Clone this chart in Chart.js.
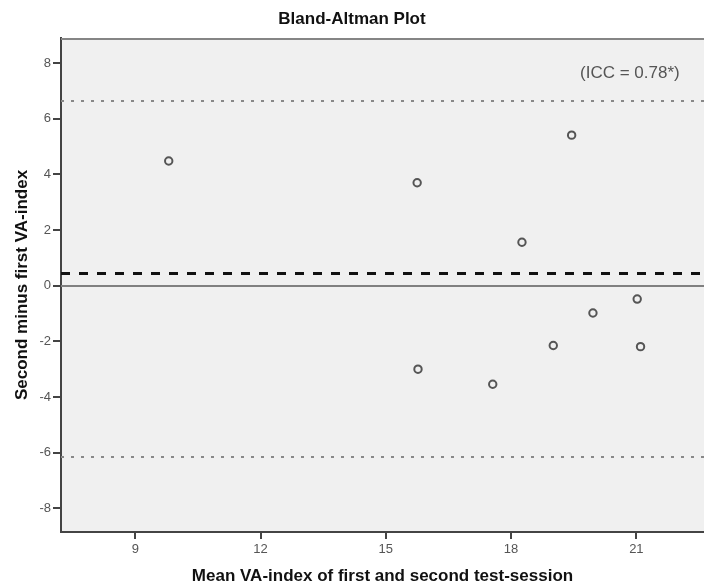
<!DOCTYPE html>
<html>
<head>
<meta charset="utf-8">
<script src="https://cdn.jsdelivr.net/npm/chart.js@4/dist/chart.umd.min.js"></script>
<style>
  html, body { margin: 0; padding: 0; background: #ffffff; }
  #wrap { width: 704px; height: 588px; }
</style>
</head>
<body>
<div id="wrap"><canvas id="c" width="704" height="588"></canvas></div>
<script>
// ---- data ----
const meanValues = [9.80, 15.75, 18.26, 19.45, 21.02, 19.96, 19.01, 21.10, 15.77, 17.56];
const diffValues = [4.48, 3.70, 1.56, 5.41, -0.48, -0.98, -2.15, -2.19, -3.00, -3.54];
const meanDifference = 0.45;
const upperLimit = 6.64;
const lowerLimit = -6.14;
const zeroLine = 0;
const xTickValues = [9, 12, 15, 18, 21];
const yTickValues = [-8, -6, -4, -2, 0, 2, 4, 6, 8];
const xRange = [7.22, 22.62];
const yRange = [-8.85, 8.9];
const titleText = 'Bland-Altman Plot';
const xTitle = 'Mean VA-index of first and second test-session';
const yTitle = 'Second minus first VA-index';
const iccText = '(ICC = 0.78*)';

const FONT = "'Liberation Sans', Arial, sans-serif";

const points = meanValues.map((m, i) => ({ x: m, y: diffValues[i] }));

const refLinesPlugin = {
  id: 'refLines',
  beforeDraw(chart) {
    const { ctx, chartArea: a } = chart;
    ctx.save();
    ctx.fillStyle = '#f0f0f0';
    ctx.fillRect(a.left, a.top, a.right - a.left, a.bottom - a.top);
    ctx.restore();
  },
  beforeDatasetsDraw(chart) {
    const { ctx, chartArea: a, scales } = chart;
    const y = scales.y;
    const hline = (v, color, width, dash) => {
      const py = Math.round(y.getPixelForValue(v)) + (width % 2 ? 0.5 : 0);
      ctx.save();
      ctx.beginPath();
      ctx.rect(a.left, a.top, a.right - a.left, a.bottom - a.top);
      ctx.clip();
      ctx.strokeStyle = color;
      ctx.lineWidth = width;
      ctx.setLineDash(dash);
      ctx.beginPath();
      ctx.moveTo(a.left, py);
      ctx.lineTo(a.right, py);
      ctx.stroke();
      ctx.restore();
    };
    hline(zeroLine, '#808080', 2, []);
    hline(upperLimit, '#888888', 2, [3, 7]);
    hline(lowerLimit, '#888888', 2, [3, 7]);
    hline(meanDifference, '#111111', 3, [9, 9]);

    // ICC annotation
    ctx.save();
    ctx.font = '17px ' + FONT;
    ctx.fillStyle = '#555555';
    ctx.textAlign = 'left';
    ctx.textBaseline = 'middle';
    ctx.fillText(iccText, 580, 73);
    ctx.restore();
  },
  afterDraw(chart) {
    const { ctx, chartArea: a } = chart;
    ctx.save();
    ctx.strokeStyle = '#858585';
    ctx.lineWidth = 2;
    ctx.beginPath();
    ctx.moveTo(a.left, a.top + 1);
    ctx.lineTo(a.right, a.top + 1);
    ctx.stroke();
    ctx.restore();
  }
};

new Chart(document.getElementById('c'), {
  type: 'scatter',
  data: {
    datasets: [{
      data: points,
      pointStyle: 'circle',
      pointRadius: 3.7,
      pointBorderWidth: 2,
      borderColor: '#555555',
      backgroundColor: 'rgba(0,0,0,0)',
      pointHoverRadius: 3.7
    }]
  },
  options: {
    responsive: false,
    animation: false,
    events: [],
    layout: { padding: 0, autoPadding: false },
    plugins: {
      legend: { display: false },
      tooltip: { enabled: false },
      title: {
        display: true,
        text: titleText,
        color: '#111111',
        font: { family: FONT, size: 17, weight: 'bold' },
        padding: { top: 9, bottom: 8.6 }
      }
    },
    scales: {
      x: {
        type: 'linear',
        min: xRange[0],
        max: xRange[1],
        afterBuildTicks(scale) { scale.ticks = xTickValues.map(v => ({ value: v })); },
        afterFit(scale) { scale.height = 56; scale.paddingLeft = 0; scale.paddingRight = 0; },
        ticks: {
          color: '#555555',
          font: { family: FONT, size: 13 },
          padding: 3,
          maxRotation: 0,
          autoSkip: false
        },
        grid: {
          drawOnChartArea: false,
          drawTicks: true,
          tickLength: 7,
          color: '#444444',
          lineWidth: 2
        },
        border: { display: true, color: '#444444', width: 2 },
        title: {
          display: true,
          text: xTitle,
          color: '#111111',
          font: { family: FONT, size: 17, weight: 'bold' },
          padding: { top: 0, bottom: 1 }
        }
      },
      y: {
        type: 'linear',
        min: yRange[0],
        max: yRange[1],
        afterBuildTicks(scale) { scale.ticks = yTickValues.map(v => ({ value: v })); },
        afterFit(scale) { scale.width = 61; scale.paddingTop = 0; scale.paddingBottom = 0; },
        ticks: {
          color: '#555555',
          font: { family: FONT, size: 13 },
          padding: 2
        },
        grid: {
          drawOnChartArea: false,
          drawTicks: true,
          tickLength: 8,
          color: '#444444',
          lineWidth: 2
        },
        border: { display: true, color: '#444444', width: 2 },
        title: {
          display: true,
          text: yTitle,
          color: '#111111',
          font: { family: FONT, size: 17, weight: 'bold' },
          padding: { top: 12, bottom: 0 }
        }
      }
    }
  },
  plugins: [refLinesPlugin]
});
</script>
</body>
</html>
